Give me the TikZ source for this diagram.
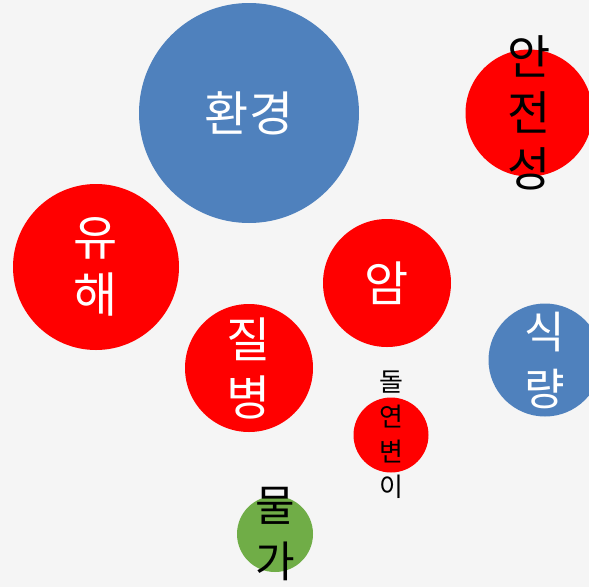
\documentclass[tikz,border=0pt]{standalone}
\usepackage{fontspec}
\setmainfont{Noto Sans CJK KR}
\definecolor{bggray}{HTML}{F5F5F5}
\definecolor{bubblered}{HTML}{FF0000}
\definecolor{bubbleblue}{HTML}{4F81BD}
\definecolor{bubblegreen}{HTML}{70AD47}
\tikzset{
  bubble/.style={circle,inner sep=0pt,minimum size=#1},
  word/.style={align=center,inner sep=0pt},
}
\begin{document}
\begin{tikzpicture}[x=1pt,y=-1pt]
    \fill[bggray] (0,0) rectangle (589,587);
    \clip (0,0) rectangle (589,587);
    % bubbles
    \node[bubble=220pt,fill=bubbleblue] (env) at (249,113) {};
    \node[bubble=127pt,fill=bubblered] (safe) at (529,113) {};
    \node[bubble=166pt,fill=bubblered] (harm) at (96,267) {};
    \node[bubble=128pt,fill=bubblered] (cancer) at (387,283) {};
    \node[bubble=128pt,fill=bubblered] (disease) at (249,368) {};
    \node[bubble=113pt,fill=bubbleblue] (food) at (545,360) {};
    \node[bubble=75pt,fill=bubblered] (mutant) at (391,435) {};
    \node[bubble=76pt,fill=bubblegreen] (price) at (275,534) {};
    % words
    \node[word,text=white,font=\fontsize{48}{55}\selectfont] (envword) at (env.center) {환경};
    \node[word,font=\fontsize{47}{56}\selectfont] (safeword) at (safe.center) {안\\전\\성};
    \node[word,text=white,font=\fontsize{48}{57}\selectfont] (harmword) at (harm.center) {유\\해};
    \node[word,text=white,font=\fontsize{48}{55}\selectfont] (cancerword) at (cancer.center) {암};
    \node[word,text=white,font=\fontsize{48}{58}\selectfont] (diseaseword) at (disease.center) {질\\병};
    \node[word,text=white,font=\fontsize{44}{57}\selectfont] (foodword) at (food.center) {식\\량};
    \node[word,font=\fontsize{26}{35}\selectfont] (mutantword) at (mutant.center) {돌\\연\\변\\이};
    \node[word,font=\fontsize{43}{56}\selectfont] (priceword) at (price.center) {물\\가};
\end{tikzpicture}
\end{document}
